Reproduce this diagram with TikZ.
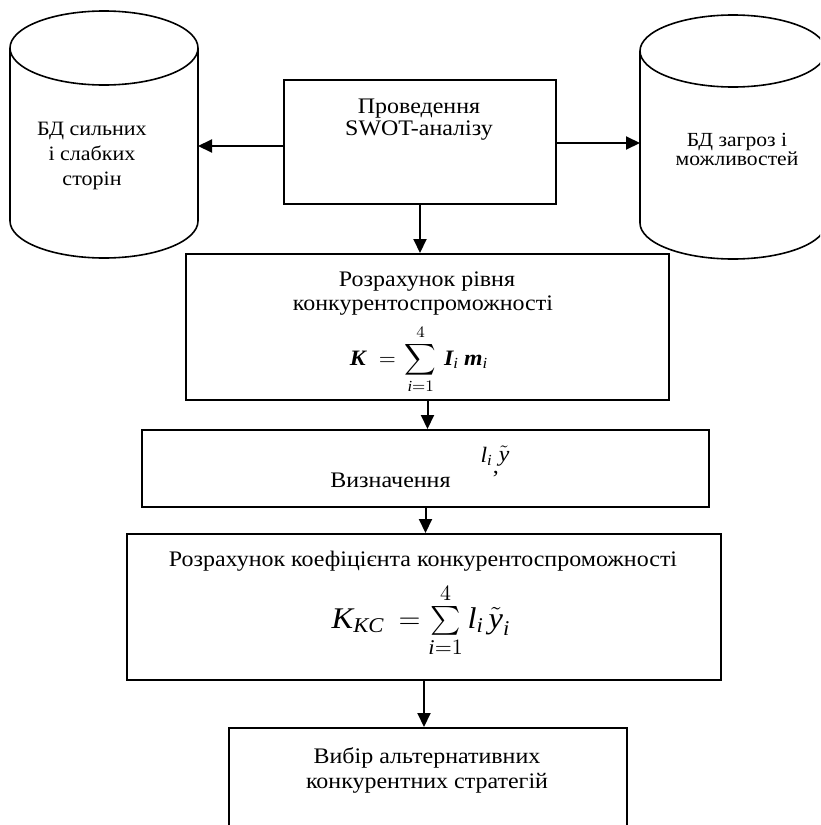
\documentclass[tikz,border=0pt]{standalone}
\usepackage{amsmath}
\usepackage{fontspec}
\setmainfont{Liberation Serif}[FakeStretch=1.08]
\usetikzlibrary{arrows.meta}
\newcommand{\mitx}[1]{\text{\itshape #1}}
\newcommand{\mbit}[1]{\text{\bfseries\itshape #1}}
\begin{document}
\begin{tikzpicture}[x=0.5pt,y=-0.5pt,
  box/.style={draw, line width=1pt, rectangle, inner sep=0pt, anchor=north west},
  arr/.style={line width=1pt, -{Triangle[length=7pt,width=6.5pt]}},
  cyl/.style={line width=0.8pt},
  lbl/.style={inner sep=0pt, anchor=base, font=\fontsize{11.1}{13}\selectfont},
  lblw/.style={inner sep=0pt, anchor=base west, font=\fontsize{11.1}{13}\selectfont}]
\useasboundingbox (0,0) rectangle (820,825);
\clip (0,0) rectangle (820,825);
% cylinders
\draw[cyl] (104,48) ellipse [x radius=47pt, y radius=18.5pt];
\draw[cyl] (10,48) -- (10,221) arc[start angle=180, end angle=360, x radius=47pt, y radius=18.5pt] -- (198,48);
\draw[cyl] (733,51) ellipse [x radius=46.5pt, y radius=18pt];
\draw[cyl] (640,51) -- (640,223) arc[start angle=180, end angle=360, x radius=46.5pt, y radius=18pt] -- (826,51);
\coordinate (dbL) at (198,146);
\coordinate (dbR) at (640,143);
% boxes
\node[box, minimum width=136pt, minimum height=62pt] (swot) at (283,79) {};
\node[box, minimum width=241.5pt, minimum height=73pt] (calc) at (185,253) {};
\node[box, minimum width=283.5pt, minimum height=38.5pt] (def) at (141,429) {};
\node[box, minimum width=297pt, minimum height=73pt] (coef) at (126,533) {};
\node[box, minimum width=199pt, minimum height=70pt] (choice) at (228,727) {};
% texts
\node[lbl] (t1) at (419,113) {Проведення};
\node[lbl] (t2) at (419,135) {SWOT-аналізу};
\node[lbl, font=\fontsize{10.2}{12}\selectfont] (t3) at (92,135) {БД сильних};
\node[lbl, font=\fontsize{10.2}{12}\selectfont] (t4) at (92,160) {і слабких};
\node[lbl, font=\fontsize{10.2}{12}\selectfont] (t5) at (92,185) {сторін};
\node[lbl, font=\fontsize{10}{11.5}\selectfont] (t6) at (737,146) {БД загроз і};
\node[lbl, font=\fontsize{10}{11.5}\selectfont] (t7) at (737,165) {можливостей};
\node[lbl] (t8) at (427,286) {Розрахунок рівня};
\node[lbl] (t9) at (423,310) {конкурентоспроможності};
\node[lbl, font=\fontsize{11}{13}\selectfont] (f1) at (419,365)
  {$\mbit{K}\hspace{3.5pt}=\hspace{1.5pt}\displaystyle\sum_{\mitx{i}=1}^{4}\hspace{2pt}\mbit{I}_{\mitx{i}}\hspace{2.5pt}\mbit{m}_{\mitx{i}}$};
\node[lblw] (t10) at (330,487) {Визначення\hspace{15pt}\raisebox{12.5pt}{\fontsize{11}{13}\selectfont$\mitx{l}_{\mitx{i}}$}\raisebox{7pt}{,}\raisebox{13pt}{\fontsize{11}{13}\selectfont$\tilde{\mitx{y}}$}};
\node[lbl] (t11) at (423,566) {Розрахунок коефіцієнта конкурентоспроможності};
\node[lbl, font=\fontsize{15}{17}\selectfont] (f2) at (421,628)
  {$\mitx{K}_{\mitx{KC}}\hspace{3pt}= \sum\limits_{\mitx{i}=1}^{4} \mitx{l}_{\mitx{i}}\,\tilde{\mitx{y}}_{\mitx{i}}$};
\node[lbl] (t12) at (427,763) {Вибір альтернативних};
\node[lbl] (t13) at (427,788) {конкурентних стратегій};
% connectors
\draw[arr] (swot.west |- dbL) -- (dbL);
\draw[arr] (swot.east |- dbR) -- (dbR);
\draw[arr] (swot.south) -- (swot.south |- calc.north);
\draw[arr] (calc.south) -- (calc.south |- def.north);
\draw[arr] (def.south) -- (def.south |- coef.north);
\draw[arr] (coef.south) -- (coef.south |- choice.north);
\end{tikzpicture}
\end{document}
